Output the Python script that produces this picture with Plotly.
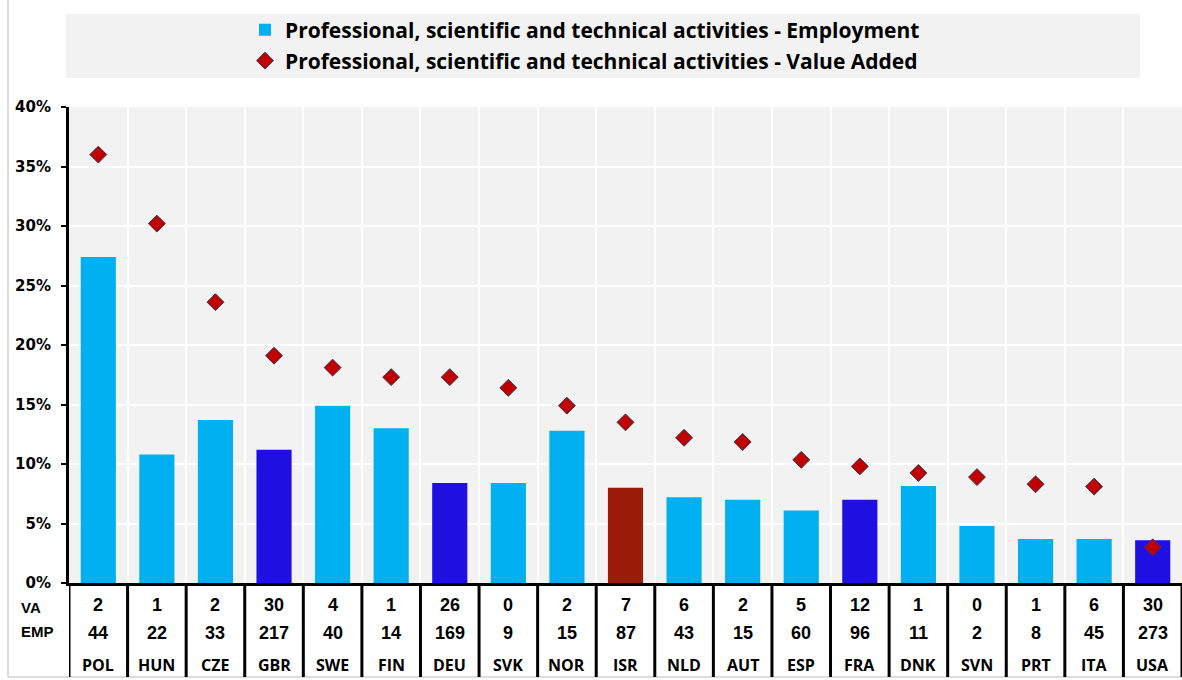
import plotly.graph_objects as go

# Country codes, ordered by value-added share
countries = ["POL", "HUN", "CZE", "GBR", "SWE", "FIN", "DEU", "SVK", "NOR", "ISR",
             "NLD", "AUT", "ESP", "FRA", "DNK", "SVN", "PRT", "ITA", "USA"]

# Shares (%) for professional, scientific and technical activities
emp_share = [27.4, 10.8, 13.7, 11.2, 14.9, 13.0, 8.4, 8.4, 12.8, 8.0,
             7.2, 7.0, 6.1, 7.0, 8.15, 4.8, 3.7, 3.7, 3.6]
va_share = [36.0, 30.2, 23.6, 19.1, 18.1, 17.3, 17.3, 16.4, 14.9, 13.5,
            12.2, 11.85, 10.35, 9.8, 9.25, 8.9, 8.3, 8.1, 3.0]

# Counts shown in the table under the axis
va_count = [2, 1, 2, 30, 4, 1, 26, 0, 2, 7, 6, 2, 5, 12, 1, 0, 1, 6, 30]
emp_count = [44, 22, 33, 217, 40, 14, 169, 9, 15, 87, 43, 15, 60, 96, 11, 2, 8, 45, 273]

y_ticks = [0, 5, 10, 15, 20, 25, 30, 35, 40]

LIGHT_BLUE = "#00B0F0"
DARK_BLUE = "#1F0FE0"
DARK_RED = "#9C1C0A"
highlight = {"GBR": DARK_BLUE, "DEU": DARK_BLUE, "FRA": DARK_BLUE, "USA": DARK_BLUE,
             "ISR": DARK_RED}
bar_colors = [highlight.get(c, LIGHT_BLUE) for c in countries]

W, H = 1182, 680
ML, MR, MT, MB = 69, 0, 107, 97
PW, PH = W - ML - MR, H - MT - MB


def px_x(px):
    return (px - ML) / PW


def px_y(py):
    return (H - MB - py) / PH


fig = go.Figure()
fig.add_trace(go.Bar(
    x=countries, y=emp_share, width=0.6,
    marker=dict(color=bar_colors, line=dict(width=0)),
    name="Professional, scientific and technical activities - Employment",
    legend="legend",
))
fig.add_trace(go.Scatter(
    x=countries, y=va_share, mode="markers",
    marker=dict(symbol="diamond", size=13, color="#C00000",
                line=dict(color="#3A3A55", width=1)),
    name="Professional, scientific and technical activities - Value Added",
    legend="legend2",
))

shapes = []
# legend backdrop
shapes.append(dict(type="rect", xref="paper", yref="paper",
                   x0=px_x(66), x1=px_x(1140), y0=px_y(78), y1=px_y(14),
                   fillcolor="#F2F2F2", line=dict(width=0), layer="below"))
# light outer frame
shapes.append(dict(type="line", xref="paper", yref="paper",
                   x0=px_x(8), x1=px_x(8), y0=px_y(0), y1=px_y(677),
                   line=dict(color="#D0D0D0", width=1.5)))
shapes.append(dict(type="line", xref="paper", yref="paper",
                   x0=px_x(8), x1=1.0, y0=px_y(677), y1=px_y(677),
                   line=dict(color="#D0D0D0", width=1.5)))
# table column separators
for k in range(len(countries) + 1):
    shapes.append(dict(type="line", xref="x", yref="paper",
                       x0=k - 0.5, x1=k - 0.5, y0=0, y1=px_y(677),
                       line=dict(color="black", width=3)))

annotations = []
table_font = dict(family="Liberation Sans", size=18, color="black")
name_font = dict(family="Open Sans", size=16, color="black")
for i, c in enumerate(countries):
    annotations.append(dict(x=c, xref="x", y=px_y(605), yref="paper",
                            text=f"<b>{va_count[i]}</b>", showarrow=False,
                            font=table_font, yanchor="middle"))
    annotations.append(dict(x=c, xref="x", y=px_y(633), yref="paper",
                            text=f"<b>{emp_count[i]}</b>", showarrow=False,
                            font=table_font, yanchor="middle"))
    annotations.append(dict(x=c, xref="x", y=px_y(665), yref="paper",
                            text=f"<b>{c}</b>", showarrow=False,
                            font=name_font, yanchor="middle"))
row_font = dict(family="Liberation Sans", size=15, color="black")
annotations.append(dict(x=px_x(19), xref="paper", y=px_y(607), yref="paper",
                        text="<b>VA</b>", showarrow=False, font=row_font,
                        xanchor="left", yanchor="middle"))
annotations.append(dict(x=px_x(19), xref="paper", y=px_y(631), yref="paper",
                        text="<b>EMP</b>", showarrow=False, font=row_font,
                        xanchor="left", yanchor="middle"))

legend_font = dict(family="Open Sans", size=21, color="black", weight="bold")
fig.update_layout(
    width=W, height=H,
    margin=dict(l=ML, r=MR, t=MT, b=MB, pad=0),
    paper_bgcolor="white", plot_bgcolor="#F2F2F2",
    showlegend=True,
    legend=dict(x=px_x(245), y=px_y(30), xanchor="left", yanchor="middle",
                bgcolor="rgba(0,0,0,0)", font=legend_font, itemwidth=30),
    legend2=dict(x=px_x(245), y=px_y(61), xanchor="left", yanchor="middle",
                 bgcolor="rgba(0,0,0,0)", font=legend_font, itemwidth=30),
    xaxis=dict(type="category", range=[-0.5, len(countries) - 0.5],
               showticklabels=False, ticks="", tickson="boundaries",
               showgrid=True, gridcolor="white", gridwidth=1.5,
               showline=True, linecolor="black", linewidth=3, zeroline=False),
    yaxis=dict(range=[0, 40], tickvals=y_ticks,
               ticktext=[f"<b>{v}%</b>" for v in y_ticks],
               tickfont=dict(family="DejaVu Sans", size=15, color="black"),
               ticks="outside", ticklen=5, tickwidth=2, tickcolor="black",
               ticklabelstandoff=7,
               showgrid=True, gridcolor="white", gridwidth=1.5,
               showline=True, linecolor="black", linewidth=3, zeroline=False),
    shapes=shapes, annotations=annotations,
    bargap=0.4,
)

fig.write_html("out.html")
